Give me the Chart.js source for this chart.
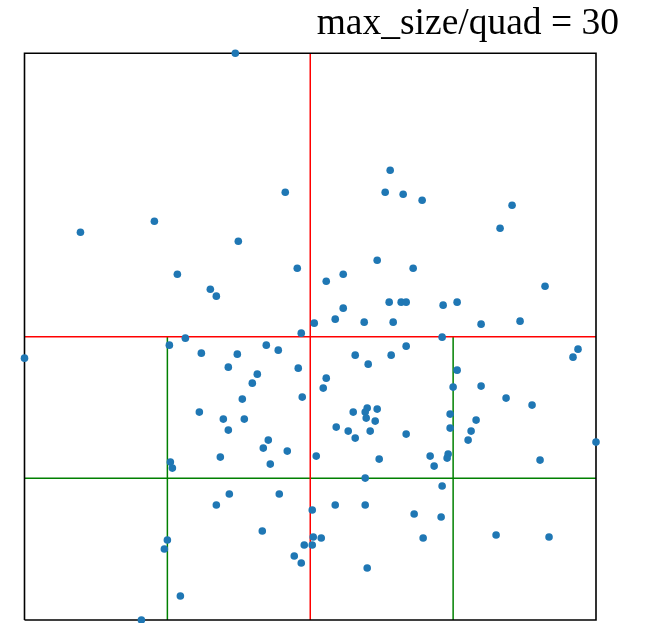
<!DOCTYPE html>
<html>
<head>
<meta charset="utf-8">
<script src="https://cdn.jsdelivr.net/npm/chart.js@4/dist/chart.umd.min.js"></script>
<style>
  body { margin: 0; background: #fff; }
</style>
</head>
<body>
<canvas id="quadChart" width="654" height="623"></canvas>
<script>
// points
const pointsX = [211, 56, 130, 261, 214, 366, 361, 379, 398, 488, 476, 153, 186, 192, 161, 145, 177, 0, 175, 273,
  302, 319, 353, 319, 311, 290, 340, 365, 377, 382, 369, 277, 242, 254, 213, 204, 233, 228, 274, 302,
  299, 218, 278, 331, 344, 367, 382, 199, 220, 204, 329, 343, 341, 342, 353, 351, 312, 324, 331, 346,
  382, 389, 419, 433, 521, 457, 496, 418, 554, 549, 433, 429, 457, 482, 508, 426, 452, 426, 447, 444,
  406, 424, 423, 410, 516, 572, 418, 390, 417, 399, 472, 525, 146, 148, 192, 143, 140, 156, 117, 244,
  239, 196, 263, 246, 292, 355, 341, 205, 255, 311, 341, 288, 238, 289, 297, 280, 288, 270, 277, 343];
const pointsY = [567, 388, 399, 428, 379, 450, 428, 426, 420, 415, 392, 346, 331, 324, 282, 275, 267, 262, 208, 352,
  339, 346, 360, 312, 301, 297, 298, 318, 318, 318, 298, 287, 275, 270, 266, 253, 246, 237, 252, 242,
  232, 221, 223, 265, 256, 265, 274, 201, 201, 190, 208, 212, 208, 202, 211, 199, 193, 189, 182, 189,
  186, 352, 315, 318, 334, 296, 299, 283, 271, 263, 250, 233, 234, 222, 215, 206, 200, 192, 189, 180,
  164, 166, 162, 154, 160, 178, 134, 106, 103, 82, 85, 83, 158, 152, 115, 80, 71, 24, 0, 180,
  172, 163, 169, 156, 164, 161, 142, 126, 126, 115, 115, 110, 89, 83, 82, 75, 75, 64, 57, 52];

const boundsX = [0, 572];
const boundsY = [0, 567];

// quads that got split: [x0, x1, y0, y1], and their depth
const splitQuads = [[0, 572, 0, 567], [0, 286, 0, 283.5], [286, 572, 0, 283.5]];
const splitDepth = [0, 1, 1];
const depthColors = ["#ff0000", "#008000"];

const chartTitle = "max_size/quad = 30";

const points = pointsX.map((x, i) => ({ x: x, y: pointsY[i] }));

function lineSet(data, color, width, order) {
  return {
    data: data,
    showLine: true,
    borderColor: color,
    borderWidth: width,
    pointRadius: 0,
    fill: false,
    clip: false,
    order: order
  };
}

const datasets = [{
  data: points,
  backgroundColor: "#1f77b4",
  borderWidth: 0,
  pointRadius: 3.8,
  clip: false,
  order: 0
}];

// outer frame = root quad
datasets.push(lineSet([
  { x: boundsX[0], y: boundsY[0] }, { x: boundsX[1], y: boundsY[0] },
  { x: boundsX[1], y: boundsY[1] }, { x: boundsX[0], y: boundsY[1] },
  { x: boundsX[0], y: boundsY[0] }
], "#000000", 1.6, 1));

splitQuads.forEach((q, i) => {
  const mx = (q[0] + q[1]) / 2;
  const my = (q[2] + q[3]) / 2;
  const color = depthColors[splitDepth[i]];
  datasets.push(lineSet([{ x: mx, y: q[2] }, { x: mx, y: q[3] }], color, 1.5, 2));
  datasets.push(lineSet([{ x: q[0], y: my }, { x: q[1], y: my }], color, 1.5, 2));
});

// title sits past the right edge of the plot, so draw it ourselves
const titlePlugin = {
  id: "rightTitle",
  afterDraw(chart) {
    const c = chart.ctx;
    c.save();
    c.font = '37.5px "Liberation Serif", "Times New Roman", serif';
    c.fillStyle = "#000";
    c.textAlign = "right";
    c.textBaseline = "alphabetic";
    c.fillText(chartTitle, 619, 34);
    c.restore();
  }
};

new Chart(document.getElementById("quadChart").getContext("2d"), {
  type: "scatter",
  data: { datasets: datasets },
  options: {
    responsive: false,
    animation: false,
    devicePixelRatio: 1,
    layout: { autoPadding: false, padding: { left: 24.5, right: 58, top: 53.3, bottom: 3 } },
    plugins: {
      legend: { display: false },
      tooltip: { enabled: false }
    },
    scales: {
      x: { type: "linear", min: boundsX[0], max: boundsX[1], display: false },
      y: { type: "linear", min: boundsY[0], max: boundsY[1], display: false }
    }
  },
  plugins: [titlePlugin]
});
</script>
</body>
</html>
